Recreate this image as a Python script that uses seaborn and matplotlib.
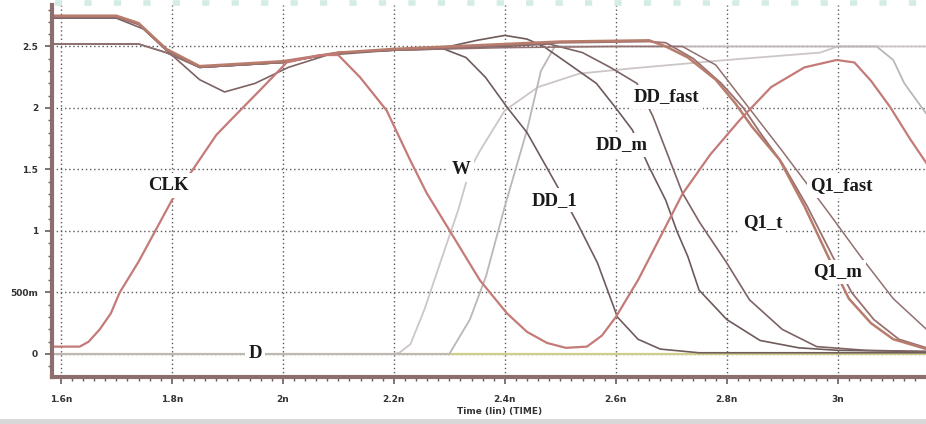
import numpy as np
import pandas as pd
import matplotlib
matplotlib.use("Agg")
import matplotlib.pyplot as plt
from matplotlib.lines import Line2D
from matplotlib.patches import Rectangle
from matplotlib.ticker import MultipleLocator, FixedLocator, FixedFormatter
import seaborn as sns

# ---------------- data (time in ns, voltage in V) ----------------
clk_t = [1.584, 1.634, 1.65, 1.67, 1.69, 1.706, 1.74, 1.77, 1.80, 1.838, 1.88, 1.91, 1.96, 2.007, 2.067,
         2.10, 2.139, 2.187, 2.229, 2.259, 2.301, 2.355, 2.404, 2.44, 2.476, 2.51, 2.548, 2.575, 2.6, 2.64,
         2.68, 2.72, 2.77, 2.823, 2.88, 2.94, 2.998, 3.03, 3.06, 3.094, 3.13, 3.16]
clk_v = [0.06, 0.06, 0.10, 0.20, 0.33, 0.50, 0.75, 1.00, 1.25, 1.50, 1.78, 1.92, 2.15, 2.37, 2.43,
         2.43, 2.25, 1.98, 1.58, 1.31, 1.00, 0.60, 0.33, 0.18, 0.09, 0.05, 0.06, 0.15, 0.30, 0.60,
         0.95, 1.30, 1.62, 1.90, 2.17, 2.33, 2.39, 2.37, 2.22, 2.01, 1.75, 1.55]

dd1_t = [1.584, 1.74, 1.79, 1.85, 2.0, 2.1, 2.2, 2.29, 2.33, 2.365, 2.405, 2.44, 2.495, 2.53, 2.567,
         2.603, 2.64, 2.68, 2.75, 3.16]
dd1_v = [2.52, 2.52, 2.45, 2.33, 2.37, 2.45, 2.47, 2.48, 2.41, 2.25, 2.00, 1.80, 1.36, 1.07, 0.74,
         0.30, 0.12, 0.04, 0.01, 0.01]

ddm_t = [1.584, 1.70, 1.74, 1.79, 1.85, 2.0, 2.1, 2.2, 2.3, 2.35, 2.40, 2.44, 2.47, 2.505, 2.565,
         2.60, 2.63, 2.66, 2.69, 2.71, 2.73, 2.75, 2.80, 2.86, 2.93, 3.0, 3.16]
ddm_v = [2.74, 2.74, 2.68, 2.47, 2.33, 2.37, 2.45, 2.47, 2.50, 2.55, 2.59, 2.56, 2.50, 2.39, 2.20,
         2.00, 1.82, 1.52, 1.25, 1.00, 0.79, 0.52, 0.28, 0.11, 0.05, 0.03, 0.02]

ddf_t = [1.584, 1.70, 1.75, 1.80, 1.85, 1.895, 1.95, 2.01, 2.08, 2.2, 2.4, 2.48, 2.54, 2.59, 2.638,
         2.667, 2.72, 2.751, 2.80, 2.841, 2.90, 2.962, 3.05, 3.16]
ddf_v = [2.73, 2.73, 2.64, 2.43, 2.23, 2.13, 2.20, 2.33, 2.43, 2.47, 2.50, 2.52, 2.45, 2.33, 2.20,
         1.93, 1.31, 1.07, 0.74, 0.44, 0.20, 0.06, 0.03, 0.02]

q1f_t = [1.584, 1.70, 1.74, 1.79, 1.85, 2.0, 2.1, 2.2, 2.4, 2.5, 2.66, 2.69, 2.73, 2.78, 2.815,
         2.845, 2.895, 2.94, 2.986, 3.02, 3.06, 3.10, 3.16]
q1f_v = [2.75, 2.75, 2.69, 2.48, 2.34, 2.38, 2.45, 2.48, 2.52, 2.54, 2.55, 2.50, 2.41, 2.23, 2.04,
         1.85, 1.58, 1.20, 0.76, 0.45, 0.25, 0.12, 0.04]

q1t_t = [1.584, 1.70, 1.74, 1.79, 1.85, 2.0, 2.1, 2.2, 2.4, 2.5, 2.66, 2.69, 2.74, 2.79, 2.83,
         2.86, 2.90, 2.945, 2.99, 3.025, 3.065, 3.11, 3.16]
q1t_v = [2.74, 2.74, 2.68, 2.47, 2.33, 2.37, 2.45, 2.47, 2.51, 2.53, 2.54, 2.53, 2.40, 2.20, 2.00,
         1.80, 1.55, 1.20, 0.80, 0.50, 0.28, 0.12, 0.05]

q1m_t = [1.584, 1.74, 1.79, 1.85, 2.0, 2.1, 2.2, 2.4, 2.6, 2.72, 2.78, 2.84, 2.90, 2.98, 3.04,
         3.10, 3.16]
q1m_v = [2.52, 2.52, 2.45, 2.33, 2.37, 2.45, 2.47, 2.49, 2.50, 2.50, 2.35, 2.00, 1.65, 1.17, 0.80,
         0.45, 0.20]

w_t = [1.584, 2.2, 2.21, 2.23, 2.255, 2.285, 2.316, 2.337, 2.355, 2.40, 2.46, 2.535, 2.625, 2.80,
       2.968, 3.0, 3.16]
w_v = [0.0, 0.0, 0.01, 0.08, 0.36, 0.76, 1.17, 1.50, 1.65, 1.98, 2.17, 2.28, 2.32, 2.39,
       2.45, 2.50, 2.50]

wn_t = [1.584, 2.30, 2.337, 2.366, 2.40, 2.44, 2.465, 2.49, 3.07, 3.10, 3.12, 3.16]
wn_v = [0.0, 0.0, 0.28, 0.63, 1.20, 1.82, 2.30, 2.50, 2.50, 2.39, 2.20, 1.95]

d_t = [1.584, 3.16]
d_v = [0.0, 0.0]

labels = ["CLK", "W", "DD_1", "DD_m", "DD_fast", "Q1_fast", "Q1_t", "Q1_m", "D"]
label_t = [1.793, 2.321, 2.49, 2.611, 2.692, 3.007, 2.865, 3.0, 1.95]
label_v = [1.37, 1.50, 1.25, 1.70, 2.09, 1.37, 1.07, 0.67, 0.0]

xticks = [1.6, 1.8, 2.0, 2.2, 2.4, 2.6, 2.8, 3.0]
xtick_labels = ["1.6n", "1.8n", "2n", "2.2n", "2.4n", "2.6n", "2.8n", "3n"]
yticks = [0.0, 0.5, 1.0, 1.5, 2.0, 2.5]
ytick_labels = ["0", "500m", "1", "1.5", "2", "2.5"]

# ---------------- styling ----------------
sns.set_theme(style="ticks")
plt.rcParams["font.family"] = ["DejaVu Sans"]

fig = plt.figure(figsize=(9.26, 4.24), dpi=100)
fig.patch.set_facecolor("white")
ax = fig.add_axes([52 / 926, 47 / 424, 1 - 52 / 926, 372 / 424])
ax.set_facecolor("white")

curves = [
    (d_t, d_v, "#cfcf8a", 1.6),
    (w_t, w_v, "#cdc6c6", 1.3),
    (wn_t, wn_v, "#bdb6b6", 1.3),
    (dd1_t, dd1_v, "#6f5c5c", 1.2),
    (ddm_t, ddm_v, "#6f5a5a", 1.2),
    (ddf_t, ddf_v, "#7d6363", 1.2),
    (q1m_t, q1m_v, "#927070", 1.1),
    (q1t_t, q1t_v, "#9a7070", 1.3),
    (q1f_t, q1f_v, "#b87c6c", 1.8),
    (clk_t, clk_v, "#c47b78", 1.6),
]
for t, v, c, lw in curves:
    df = pd.DataFrame({"t": t, "v": v})
    sns.lineplot(data=df, x="t", y="v", color=c, linewidth=lw, estimator=None,
                 sort=False, ax=ax, legend=False)

ax.set_xlim(1.584, 3.159)
ax.set_ylim(-0.187, 2.837)

ax.xaxis.set_major_locator(FixedLocator(xticks))
ax.xaxis.set_major_formatter(FixedFormatter(xtick_labels))
ax.yaxis.set_major_locator(FixedLocator(yticks))
ax.yaxis.set_major_formatter(FixedFormatter(ytick_labels))
ax.xaxis.set_minor_locator(MultipleLocator(0.02))
ax.yaxis.set_minor_locator(MultipleLocator(0.1))

ax.grid(True, which="major", color="#5a5a5a", linestyle=(0, (1, 2)), linewidth=1.0)
ax.set_axisbelow(True)

for s in ["top", "right"]:
    ax.spines[s].set_visible(False)
for s in ["left", "bottom"]:
    ax.spines[s].set_color("#8c6e6e")
    ax.spines[s].set_linewidth(3)

ax.tick_params(axis="x", which="major", direction="out", length=5, width=1.2,
               color="#6b5a5a", pad=8, labelsize=6.5, labelcolor="#333333")
ax.tick_params(axis="y", which="major", direction="out", length=5, width=1.2,
               color="#6b5a5a", pad=5, labelsize=6.5, labelcolor="#333333")
ax.tick_params(axis="both", which="minor", direction="out", length=3, width=1.0,
               color="#6b5a5a")
for lab in ax.get_xticklabels() + ax.get_yticklabels():
    lab.set_fontweight("bold")
ax.set_xlabel("")
ax.set_ylabel("")

# x axis title
ax.text(2.39, -0.094, "Time (lin) (TIME)", transform=ax.get_xaxis_transform(),
        ha="center", va="center", fontsize=6.5, fontweight="bold", color="#333333")

# signal labels
for name, lt, lv in zip(labels, label_t, label_v):
    ax.text(lt, lv, name, ha="center", va="center", fontsize=13.5, fontweight="bold",
            family=["Liberation Serif", "DejaVu Serif"], color="#1a1a1a", zorder=5,
            bbox=dict(facecolor="white", edgecolor="none", pad=2.5))

# scan artefacts: dashed cyan strip at top and gray band at bottom
fig.add_artist(Line2D([55 / 926, 1.0], [1 - 2.5 / 424, 1 - 2.5 / 424], transform=fig.transFigure,
                      color="#d3ece6", linewidth=4, dashes=(1.3, 4)))
fig.add_artist(Rectangle((0, 0), 1, 5 / 424, transform=fig.transFigure,
                         facecolor="#d8d8d8", edgecolor="none"))

fig.savefig("out.png", dpi=100, facecolor="white")
